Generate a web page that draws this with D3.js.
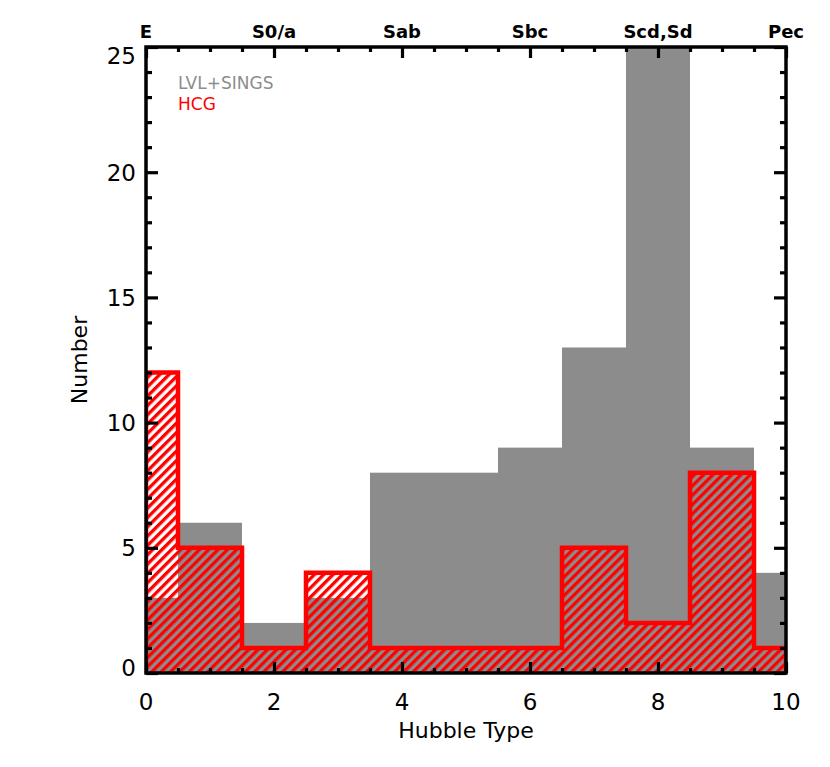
<!DOCTYPE html>
<html><head><meta charset="utf-8">
<script src="https://cdn.jsdelivr.net/npm/d3@7"></script>
<style>body{margin:0;background:#fff}text{font-family:"DejaVu Sans",sans-serif}</style>
</head><body><svg id="c" width="830" height="767"></svg>
<script>
const types = [0,1,2,3,4,5,6,7,8,9,10];
const lvlSings = [3,6,2,3,8,8,9,13,25,9,4];
const hcg = [12,5,1,4,1,1,1,5,2,8,1];
const topTickVals = [0,2,4,6,8,10];
const topTickLabels = ["E","S0/a","Sab","Sbc","Scd,Sd","Pec"];
const yTickVals = [0,5,10,15,20,25];
const legendNames = ["LVL+SINGS","HCG"];

const W=830,H=767, L=146, R=786, T=47, B=673;
const svg=d3.select("#c");
const x=d3.scaleLinear().domain([0,10]).range([L,R]);
const y=d3.scaleLinear().domain([0,25]).range([B,T]);
const GRAY="#8c8c8c", RED="#ff0000";

const defs=svg.append("defs");
defs.append("clipPath").attr("id","clip").append("rect")
  .attr("x",L).attr("y",T).attr("width",R-L).attr("height",B-T);
const pat=defs.append("pattern").attr("id","hatch").attr("patternUnits","userSpaceOnUse")
  .attr("width",6.6).attr("height",6.6).attr("patternTransform","rotate(45)");
pat.append("rect").attr("x",0).attr("y",0).attr("width",3.3).attr("height",6.6).attr("fill",RED);

const g=svg.append("g").attr("clip-path","url(#clip)");
const lo=t=>Math.max(0,t-0.5), hi=t=>Math.min(10,t+0.5);

// gray histogram
g.selectAll("rect.gray").data(types).join("rect").attr("class","gray")
  .attr("x",d=>x(lo(d))).attr("width",d=>x(hi(d))-x(lo(d)))
  .attr("y",(d,i)=>y(lvlSings[i])).attr("height",(d,i)=>y(0)-y(lvlSings[i]))
  .attr("fill",GRAY);

// hatched hcg
g.selectAll("rect.hcg").data(types).join("rect").attr("class","hcg")
  .attr("x",d=>x(lo(d))).attr("width",d=>x(hi(d))-x(lo(d)))
  .attr("y",(d,i)=>y(hcg[i])).attr("height",(d,i)=>y(0)-y(hcg[i]))
  .attr("fill","url(#hatch)");

// step outline
const pts=[[0,0]];
types.forEach((t,i)=>{pts.push([lo(t),hcg[i]]);pts.push([hi(t),hcg[i]]);});
pts.push([10,0]);
g.append("path").attr("d",d3.line().x(p=>x(p[0])).y(p=>y(p[1]))(pts))
  .attr("fill","none").attr("stroke",RED).attr("stroke-width",4.5).attr("stroke-linejoin","miter");

// axes
const ax=svg.append("g");
const xb=ax.append("g").attr("transform",`translate(0,${B})`)
  .call(d3.axisBottom(x).tickValues(d3.range(0,10.01,0.5)).tickSize(-5).tickFormat(""));
xb.selectAll(".tick line").filter(d=>d%2===0).attr("y2",-11);
const xt=ax.append("g").attr("transform",`translate(0,${T})`)
  .call(d3.axisTop(x).tickValues(d3.range(0,10.01,0.5)).tickSize(-5).tickFormat(""));
xt.selectAll(".tick line").filter(d=>d%2===0).attr("y2",11);
const yl=ax.append("g").attr("transform",`translate(${L},0)`)
  .call(d3.axisLeft(y).tickValues(d3.range(0,25.01,1)).tickSize(-6).tickFormat(""));
yl.selectAll(".tick line").filter(d=>d%5===0).attr("x2",12);
const yr=ax.append("g").attr("transform",`translate(${R},0)`)
  .call(d3.axisRight(y).tickValues(d3.range(0,25.01,1)).tickSize(-6).tickFormat(""));
yr.selectAll(".tick line").filter(d=>d%5===0).attr("x2",-12);
ax.selectAll(".tick line").attr("stroke","#000").attr("stroke-width",3.2);
ax.selectAll(".domain").remove();
ax.append("rect").attr("x",L).attr("y",T).attr("width",R-L).attr("height",B-T)
  .attr("fill","none").attr("stroke","#000").attr("stroke-width",3.5);

// tick labels
svg.append("g").selectAll("text").data(topTickVals).join("text")
  .attr("x",d=>x(d)).attr("y",710).attr("text-anchor","middle")
  .attr("font-size",23).text(d=>d);
svg.append("g").selectAll("text").data(yTickVals).join("text")
  .attr("x",L-10).attr("y",d=>y(d)+8.5 + (d===25?8:0) + (d===0?-6:0))
  .attr("text-anchor","end").attr("font-size",23).text(d=>d);
svg.append("g").selectAll("text").data(topTickVals).join("text")
  .attr("x",d=>x(d)).attr("y",38).attr("text-anchor","middle")
  .attr("font-size",18).attr("font-weight","bold").text((d,i)=>topTickLabels[i]);

// axis titles
svg.append("text").attr("x",(L+R)/2).attr("y",738).attr("text-anchor","middle")
  .attr("font-size",22).text("Hubble Type");
svg.append("text").attr("transform",`translate(87,${(T+B)/2}) rotate(-90)`)
  .attr("text-anchor","middle").attr("font-size",22).text("Number");

// legend
svg.append("g").selectAll("text").data(legendNames).join("text")
  .attr("x",178).attr("y",(d,i)=>89+i*21).attr("font-size",17)
  .attr("fill",(d,i)=>i===0?GRAY:RED).text(d=>d);
</script></body></html>
